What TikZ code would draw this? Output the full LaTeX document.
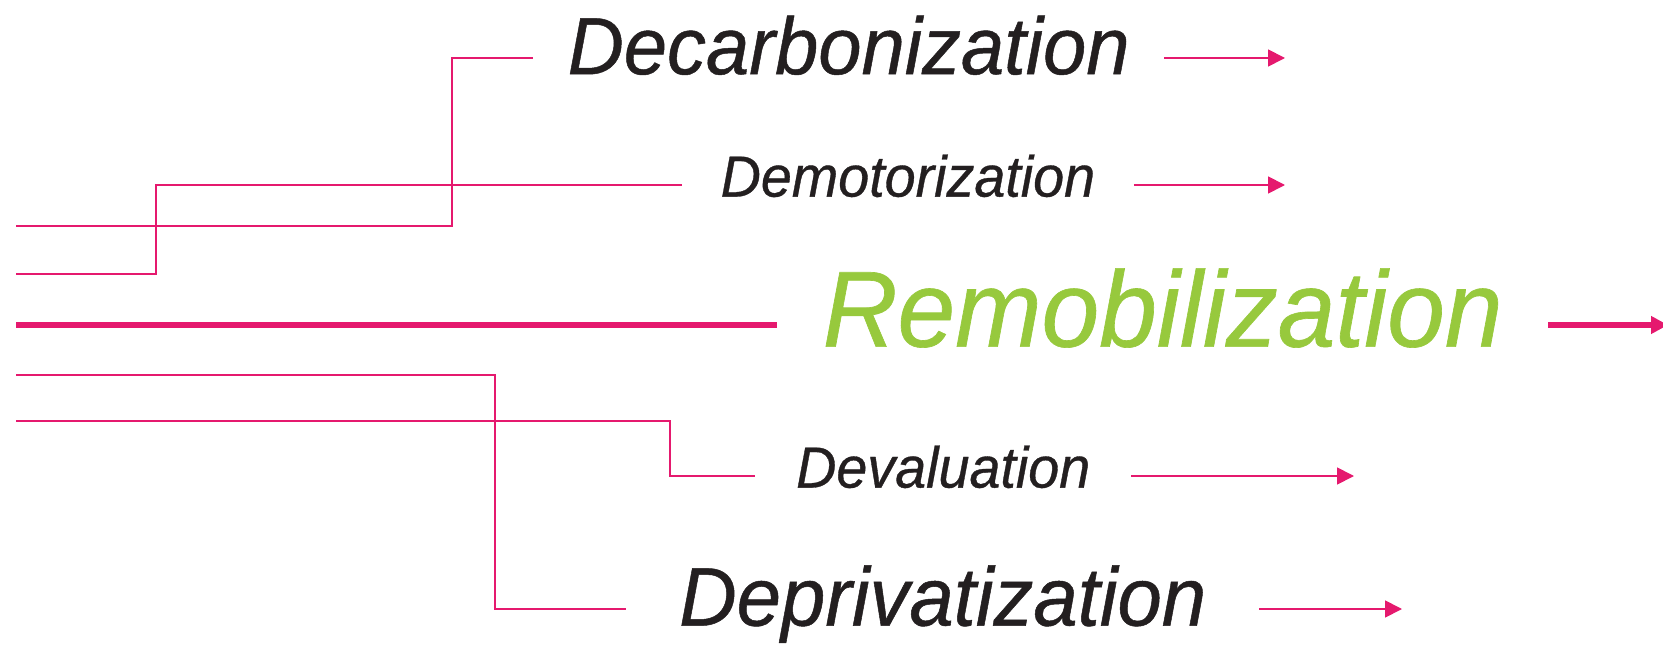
\documentclass[tikz,border=0pt]{standalone}
\usepackage{fontspec}
\newfontfamily\wfont[FakeStretch=0.96,FakeBold=0.6]{Liberation Sans}
\usetikzlibrary{arrows.meta,positioning}
\definecolor{rose}{HTML}{E5196E}
\definecolor{ink}{HTML}{231F20}
\definecolor{leaf}{HTML}{97C93D}

\begin{document}
\begin{tikzpicture}[x=1pt,y=-1pt,>={Triangle[length=17pt,width=17pt]},
  link/.style={draw=rose,line width=1.8pt},
  trunk/.style={draw=rose,line width=5.3pt},
  word/.style={font=\wfont\itshape\fontsize{#1pt}{#1pt}\selectfont,text=ink,
    text height=0.7*#1pt,text depth=0.3*#1pt,inner ysep=0pt,anchor=west}]
  \useasboundingbox (0,0) rectangle (1663,647);

  \node[word=81,inner xsep=34.5pt] (dec) at (533,58) {Decarbonization};
  \node[word=58,inner xsep=38.5pt] (dem) at (682,185) {Demotorization};
  \node[word=108,inner xsep=45.5pt,text=leaf] (rem) at (777,325) {Remobilization};
  \node[word=58,inner xsep=41pt] (dev) at (755,476) {Devaluation};
  \node[word=83,inner xsep=53pt] (dep) at (626,609) {Deprivatization};

  % left ends, corners and arrow tips
  \coordinate (dec-src) at (16,226);
  \coordinate (dem-src) at (16,274);
  \coordinate (rem-src) at (16,325);
  \coordinate (dep-src) at (16,375);
  \coordinate (dev-src) at (16,421);
  \coordinate (dec-knee) at (452,58);
  \coordinate (dem-knee) at (156,185);
  \coordinate (dep-knee) at (495,609);
  \coordinate (dev-knee) at (670,476);
  \coordinate (dec-tip) at (1285,58);
  \coordinate (dem-tip) at (1285,185);
  \coordinate (rem-tip) at (1668,325);
  \coordinate (dev-tip) at (1354,476);
  \coordinate (dep-tip) at (1402,609);

  \foreach \w in {dec,dem,dep,dev} {
    \draw[link] (\w-src) -| (\w-knee) -- (\w);
    \draw[link,->] (\w) -- (\w-tip);
  }

  \draw[trunk] (rem-src) -- (rem);
  \draw[trunk,->] (rem) -- (rem-tip);
\end{tikzpicture}
\end{document}
